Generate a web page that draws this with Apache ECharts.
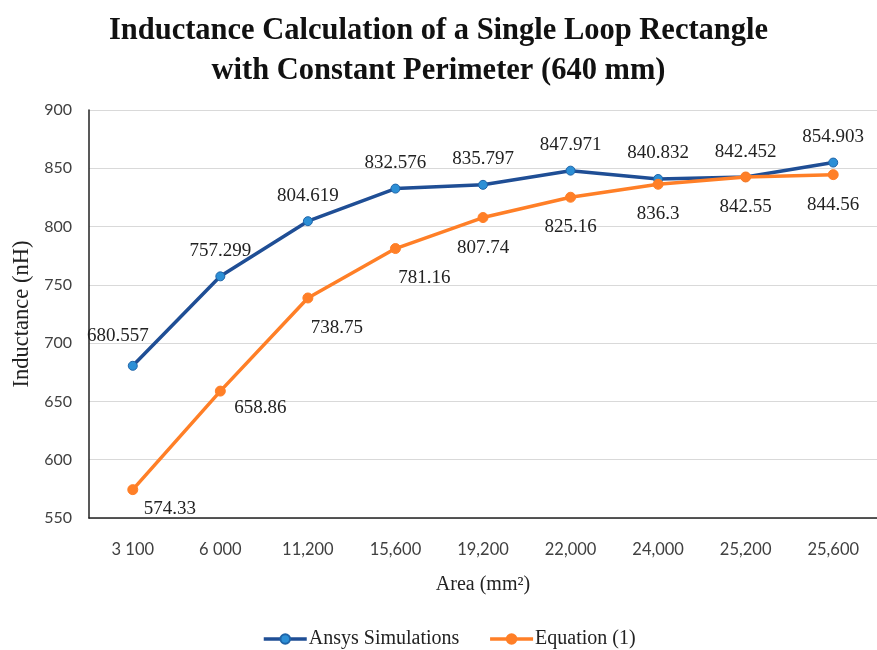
<!DOCTYPE html>
<html>
<head>
<meta charset="utf-8">
<script src="https://cdn.jsdelivr.net/npm/echarts@6/dist/echarts.min.js"></script>
<style>html,body{margin:0;padding:0;background:#fff}#c{width:877px;height:650px}</style>
</head>
<body>
<div id="c"></div>
<script>
var categories = ['3 100', '6 000', '11,200', '15,600', '19,200', '22,000', '24,000', '25,200', '25,600'];
var ansys = [680.557, 757.299, 804.619, 832.576, 835.797, 847.971, 840.832, 842.452, 854.903];
var equation = [574.33, 658.86, 738.75, 781.16, 807.74, 825.16, 836.3, 842.55, 844.56];
var yTicks = {min: 550, max: 900, interval: 50};

var FONT = '"Liberation Serif", "DejaVu Serif", serif';
var SANS = 'Lato, "Liberation Sans", sans-serif';
var ansysLabelOffsets = [[-15, -4], [0, 0], [0, 0], [0, 0], [0, 0], [0, 0], [0, 0], [0, 0], [0, 0]];
var eqLabelOffsets = [[37, -11], [40, -13], [29, 0], [29, -1], [0, 0], [0, 0], [0, 0], [0, 0], [0, 0]];

function mk(vals, offs) {
  return vals.map(function (v, i) {
    return {value: v, label: {offset: offs[i]}};
  });
}

var chart = echarts.init(document.getElementById('c'));
chart.setOption({
  animation: false,
  backgroundColor: '#fff',
  title: {
    text: 'Inductance Calculation of a Single Loop Rectangle\nwith Constant Perimeter (640 mm)',
    left: 'center',
    top: 6,
    textStyle: {fontFamily: FONT, fontWeight: 'bold', fontSize: 30.5, lineHeight: 40, color: '#111'}
  },
  legend: {
    bottom: -4,
    left: 257,
    itemWidth: 43,
    itemHeight: 12,
    itemGap: 29,
    lineStyle: {width: 3.5},
    textStyle: {fontFamily: FONT, fontSize: 20, color: '#222', padding: [0, 0, 0, -3]},
    data: ['Ansys Simulations', 'Equation (1)']
  },
  grid: {left: 89, right: -4, top: 110, bottom: 132, containLabel: false},
  xAxis: {
    type: 'category',
    data: categories,
    boundaryGap: true,
    name: 'Area (mm²)',
    nameLocation: 'middle',
    nameGap: 57,
    nameTextStyle: {fontFamily: FONT, fontSize: 20, color: '#222'},
    axisLine: {lineStyle: {color: '#222', width: 1.5}},
    axisTick: {show: false},
    axisLabel: {fontFamily: SANS, fontSize: 16.5, color: '#404040', margin: 23},
    splitLine: {show: false}
  },
  yAxis: {
    type: 'value',
    min: yTicks.min,
    max: yTicks.max,
    interval: yTicks.interval,
    name: 'Inductance (nH)',
    nameLocation: 'middle',
    nameGap: 55,
    nameTextStyle: {fontFamily: FONT, fontSize: 22.5, color: '#222'},
    axisLine: {show: true, lineStyle: {color: '#222', width: 1.5}},
    axisTick: {show: false},
    axisLabel: {fontFamily: SANS, fontSize: 16, color: '#404040', margin: 17},
    splitLine: {lineStyle: {color: '#d9d9d9', width: 1}}
  },
  series: [
    {
      name: 'Ansys Simulations',
      type: 'line',
      data: mk(ansys, ansysLabelOffsets),
      symbol: 'circle',
      symbolSize: 9,
      lineStyle: {color: '#1F4E95', width: 3.5},
      itemStyle: {color: '#2C8FD6', borderColor: '#1F64A8', borderWidth: 1},
      label: {show: true, position: 'top', distance: 11, fontFamily: FONT, fontSize: 19, color: '#222'},
      z: 3
    },
    {
      name: 'Equation (1)',
      type: 'line',
      data: mk(equation, eqLabelOffsets),
      symbol: 'circle',
      symbolSize: 10,
      lineStyle: {color: '#FF7F27', width: 3.5},
      itemStyle: {color: '#FF7F27', borderColor: '#FF7F27', borderWidth: 1},
      label: {show: true, position: 'bottom', distance: 15, fontFamily: FONT, fontSize: 19, color: '#222'},
      z: 4
    }
  ]
});
</script>
</body>
</html>
